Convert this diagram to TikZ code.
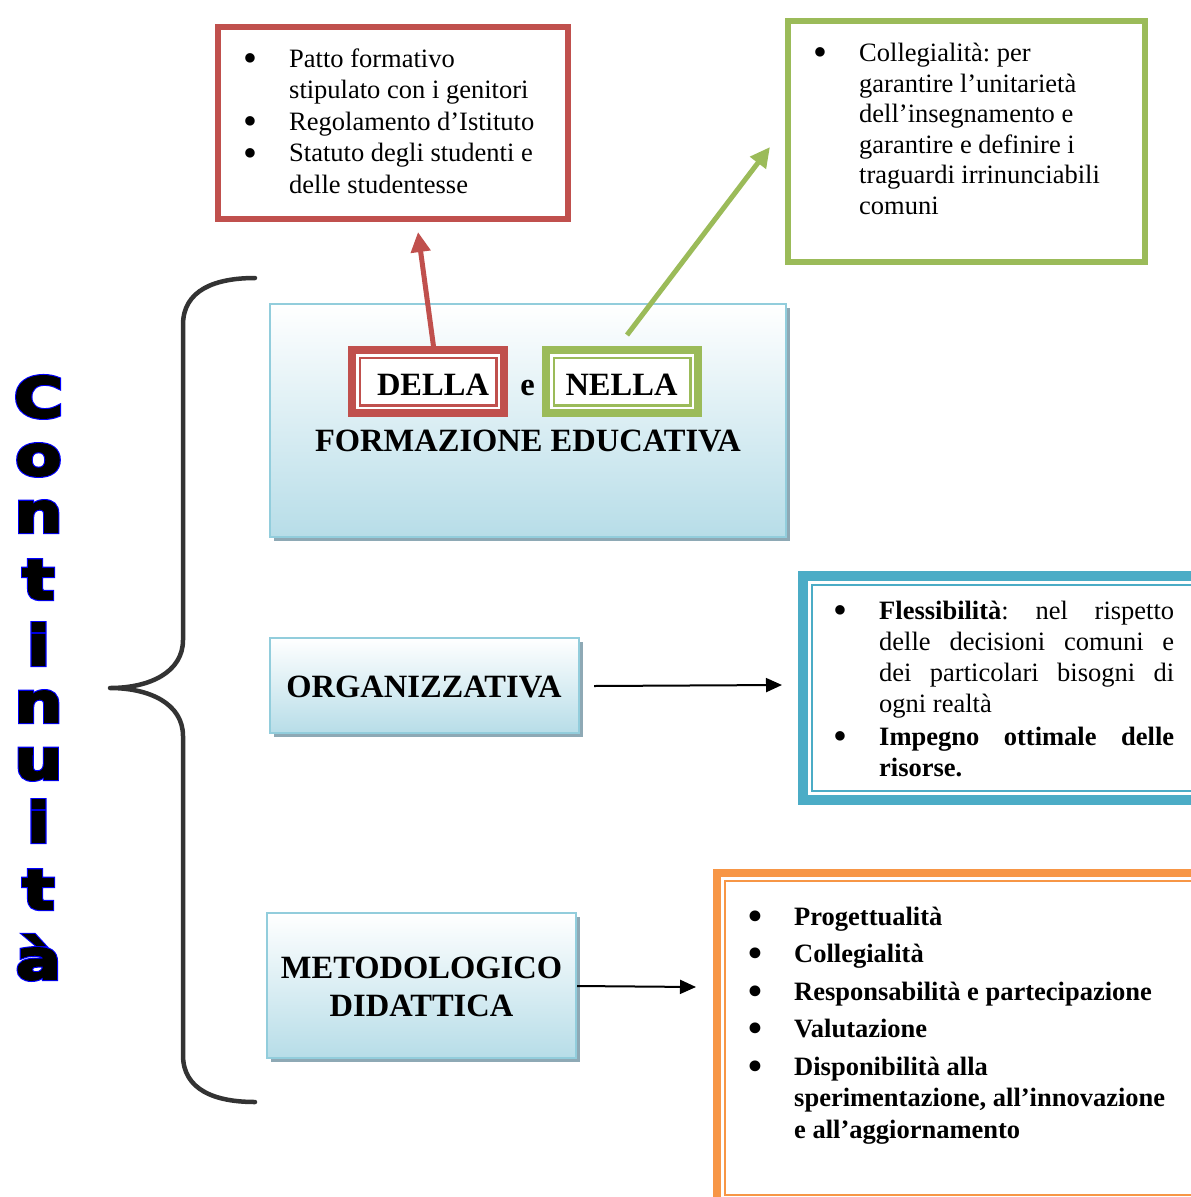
\documentclass[tikz,border=0pt]{standalone}
\usepackage{fontspec}
\setmainfont{Liberation Serif}
\usepackage{graphicx}
\usetikzlibrary{arrows.meta,calc,shadows}

\newfontfamily\contfill[UprightFont=* Bold,FakeBold=4,FakeStretch=1.22]{DejaVu Sans}
\newfontfamily\contedge[UprightFont=* Bold,FakeBold=8,FakeStretch=1.22]{DejaVu Sans}

\definecolor{redc}{HTML}{C0504D}
\definecolor{greenc}{HTML}{9BBB59}
\definecolor{bluec}{HTML}{4BACC6}
\definecolor{orangec}{HTML}{F79646}
\definecolor{boxline}{HTML}{92CDDC}
\definecolor{boxfill}{HTML}{B7DDE8}
\definecolor{shadowc}{HTML}{8EA9B5}
\definecolor{bracec}{HTML}{333333}

% bullet list helpers
\newcommand\bul{\smash{\raisebox{-4.3pt}{\scalebox{1.5}{\textbullet}}}}
\newcommand\itm[1]{\par\hangindent=46pt\hangafter=1\noindent\makebox[46pt][l]{\bul}#1}

\begin{document}
\frenchspacing
\begin{tikzpicture}[x=1pt,y=-1pt,
  panel/.style={draw=boxline, line width=2.5, top color=white, bottom color=boxfill,
    outer sep=0, inner sep=0,
    drop shadow={shadow xshift=4pt, shadow yshift=-4pt, fill=shadowc, opacity=1}},
  frame/.style={line width=6.5, fill=white, outer sep=0, inner sep=0},
  tag/.style={line width=8, fill=white, outer sep=0, inner sep=0,
    minimum width=152, minimum height=63},
  head/.style={font=\fontsize{32.5}{38}\selectfont\bfseries, inner sep=0, anchor=base},
  plain/.style={inner sep=0, anchor=base west},
  link/.style={line width=5, -{Triangle[length=20pt,width=19pt]}},
  pointer/.style={draw=black, line width=2, -{Triangle[length=16pt,width=14pt]}},
  brace/.style={draw=bracec, line width=4.5, line cap=round, line join=round},
  letterfill/.style={text=black, font=\contfill\fontsize{55}{60}\selectfont, inner sep=0, anchor=base},
  letteredge/.style={text=blue, font=\contedge\fontsize{55}{60}\selectfont, inner sep=0, anchor=base}
]
\useasboundingbox (0,0) rectangle (1191,1197);
\fill[white] (0,0) rectangle (1191,1197);

% vertical title
\foreach \ch/\yy [count=\k] in {C/417, o/475, n/532, t/599, i/665, n/722, u/779, i/842, t/909, à/979}{
  \node[letteredge] (edge\k) at (38.5,\yy) {\ch};
  \node[letterfill] (ltr\k) at (38.5,\yy) {\ch};
}

% curly brace
\draw[brace] (255,278) .. controls (215,278) and (183,290) .. (183,325)
  -- (183,640) .. controls (183,672) and (150,688) .. (110,688)
  .. controls (150,688) and (183,704) .. (183,736)
  -- (183,1055) .. controls (183,1090) and (215,1102) .. (255,1102);

% top framed lists
\node[frame, draw=redc, minimum width=350, minimum height=192] (redbox) at (393,123) {};
\node[plain] (redlist) at (243,67) {\parbox[t]{330pt}{\fontsize{26.5}{31.6}\selectfont\parskip=0pt
  \itm{Patto formativo\\stipulato con i genitori}
  \itm{Regolamento d’Istituto}
  \itm{Statuto degli studenti e\\delle studentesse}}};

\node[frame, draw=greenc, minimum width=357, minimum height=241] (greenbox) at (966.5,141.5) {};
\node[plain] (greenlist) at (813,61.5) {\parbox[t]{330pt}{\fontsize{26.5}{30.6}\selectfont\parskip=0pt
  \itm{Collegialità: per\\garantire l’unitarietà\\dell’insegnamento e\\garantire e definire i\\traguardi irrinunciabili\\comuni}}};

% main panels
\node[panel, minimum width=516, minimum height=233] (formbox) at (528,420.5) {};
\node[panel, minimum width=309, minimum height=95] (orgbox) at (424.5,685.5) {};
\node[panel, minimum width=309, minimum height=145] (metbox) at (421.5,985.5) {};

% DELLA / NELLA tags
\node[tag, draw=redc] (della) at (428,381.5) {};
\draw[redc, line width=2.5] ($(della.north west)+(7.75,7.75)$) rectangle ($(della.south east)+(-7.75,-7.75)$);
\node[tag, draw=greenc] (nella) at (622,381.5) {};
\draw[greenc, line width=2.5] ($(nella.north west)+(7.75,7.75)$) rectangle ($(nella.south east)+(-7.75,-7.75)$);

\node[head] (dellatxt) at (433,395) {DELLA};
\node[head] (etxt) at (527.5,395) {e};
\node[head] (nellatxt) at (621.5,395) {NELLA};
\node[head] (formtxt) at (528,451) {FORMAZIONE EDUCATIVA};
\node[head] (orgtxt) at (424,697) {ORGANIZZATIVA};
\node[head] (mettxt) at (421.5,978) {METODOLOGICO};
\node[head] (didtxt) at (421.5,1016) {DIDATTICA};

% right framed lists
\node[draw=bluec, line width=10, outer sep=0, inner sep=0, minimum width=412, minimum height=224] (bluebox) at (1009,688) {};
\draw[bluec, line width=2] ($(bluebox.north west)+(9,9)$) rectangle ($(bluebox.south east)+(-9,-9)$);
\node[plain] (bluelist) at (833,619) {\parbox[t]{400pt}{\fontsize{26.5}{31}\selectfont\parskip=2pt
  \itm{\makebox[295pt][s]{\textbf{Flessibilità}: nel rispetto}\\
    \makebox[295pt][s]{delle decisioni comuni e}\\
    \makebox[295pt][s]{dei particolari bisogni di}\\
    ogni realtà}
  \itm{\makebox[295pt][s]{\textbf{Impegno ottimale delle}}\\
    \textbf{risorse.}}}};

\node[draw=orangec, line width=8, outer sep=0, inner sep=0, minimum width=498, minimum height=329] (orangebox) at (966,1037.5) {};
\draw[orangec, line width=2] ($(orangebox.north west)+(7.5,7.5)$) rectangle ($(orangebox.south east)+(-7.5,-7.5)$);
\node[plain] (orangelist) at (748,925) {\parbox[t]{420pt}{\fontsize{26.5}{31.5}\selectfont\bfseries\parskip=6pt
  \itm{Progettualità}
  \itm{Collegialità}
  \itm{Responsabilità e partecipazione}
  \itm{Valutazione}
  \itm{Disponibilità alla\\sperimentazione, all’innovazione\\e all’aggiornamento}}};

% connectors
\draw[link, draw=redc] ($(della.north)+(6,0)$) -- ($(redbox.south)+(25,13)$);
\draw[link, draw=greenc] ($(nella.north)+(5,-15)$) -- ($(greenbox.west)+(-18,5.5)$);
\draw[pointer] ($(orgbox.east)+(15,0.5)$) -- ($(bluebox.west)+(-21,-3)$);
\draw[pointer] ($(metbox.east)+(1,0.5)$) -- ($(metbox.east -| orangebox.west)+(-21,1.5)$);
\end{tikzpicture}
\end{document}
